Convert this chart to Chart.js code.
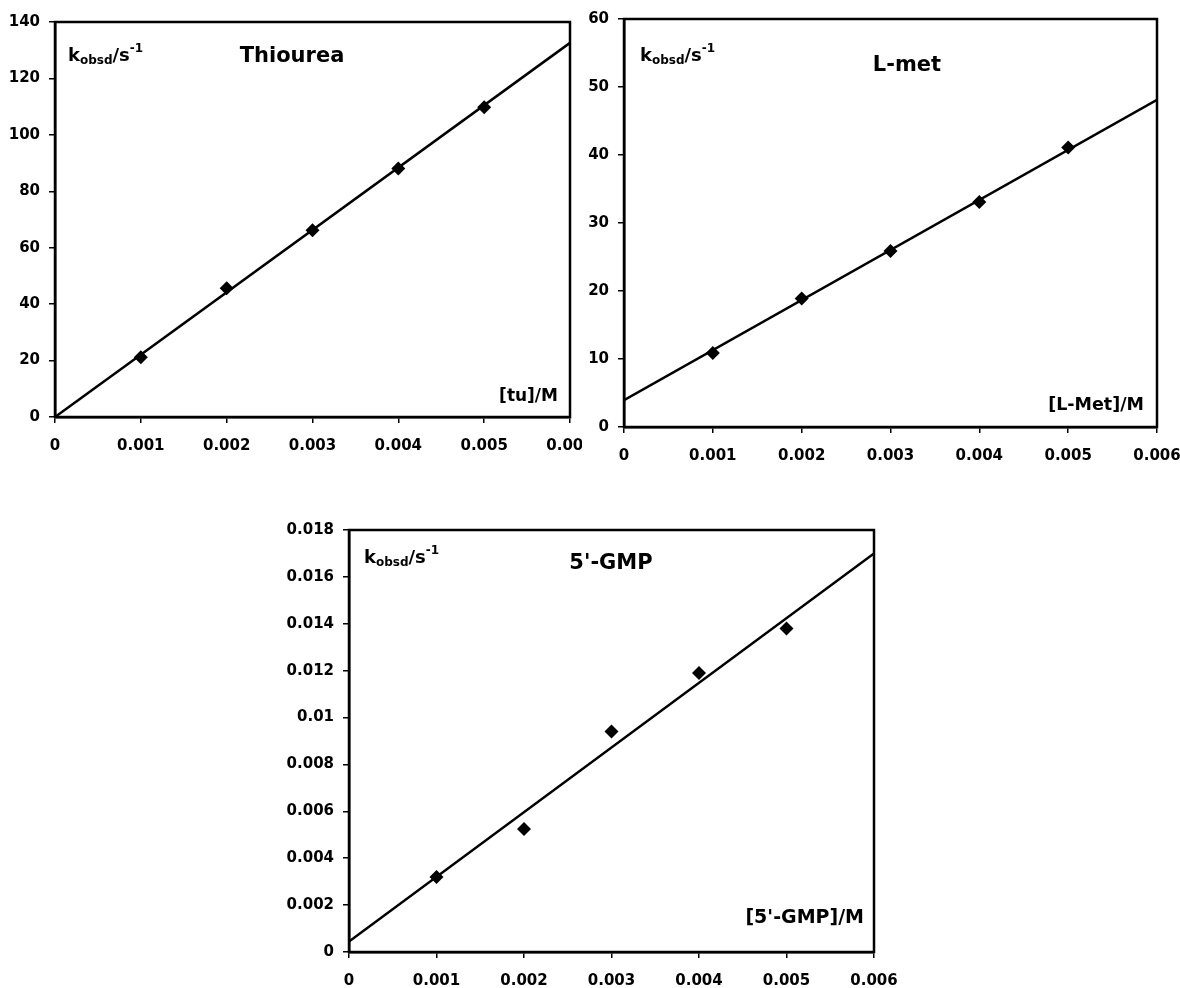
<!DOCTYPE html>
<html>
<head>
<meta charset="utf-8">
<script src="https://cdn.jsdelivr.net/npm/chart.js@4.4.1/dist/chart.umd.min.js"></script>
<style>
    body { margin: 0; background: #fff; width: 1180px; height: 988px; position: relative; overflow: hidden; }
    canvas { position: absolute; }
</style>
</head>
<body>
<canvas id="thioureaChart" width="582" height="470" style="left:0;top:0"></canvas>
<canvas id="lmetChart" width="598" height="470" style="left:582px;top:0"></canvas>
<canvas id="gmpChart" width="640" height="498" style="left:270px;top:490px"></canvas>
<script>
// Concentrations of nucleophile (M)
const concX = [0.001, 0.002, 0.003, 0.004, 0.005];

const thioureaK = [21.2, 45.6, 66.2, 88.1, 109.8];
const lmetK = [10.9, 18.9, 25.9, 33.1, 41.1];
const gmpK = [0.0032, 0.00525, 0.0094, 0.0119, 0.0138];

// Linear fit end points
const fitX = [0, 0.006];
const thioureaFit = [0, 132.6];
const lmetFit = [3.95, 48.1];
const gmpFit = [0.00045, 0.017];

// Axis tick values
const xTicks = [0, 0.001, 0.002, 0.003, 0.004, 0.005, 0.006];
const thioureaYTicks = [0, 20, 40, 60, 80, 100, 120, 140];
const lmetYTicks = [0, 10, 20, 30, 40, 50, 60];
const gmpYTicks = [0, 0.002, 0.004, 0.006, 0.008, 0.01, 0.012, 0.014, 0.016, 0.018];

const FONT = "'DejaVu Sans', sans-serif";

function fmt(v) {
    return String(parseFloat(Number(v).toFixed(4)));
}

// Draws a box round the plot area (top and right sides too)
const framePlugin = {
    id: 'frame',
    afterDraw(chart) {
        const a = chart.chartArea;
        const ctx = chart.ctx;
        ctx.save();
        ctx.strokeStyle = '#000';
        ctx.lineWidth = 2.5;
        ctx.strokeRect(a.left, a.top, a.right - a.left, a.bottom - a.top);
        ctx.restore();
    }
};

// In-plot texts: k_obsd/s^-1, the title and the x-axis label
const notesPlugin = {
    id: 'notes',
    afterDraw(chart, args, opts) {
        const ctx = chart.ctx;
        ctx.save();
        ctx.fillStyle = '#000';
        ctx.textBaseline = 'alphabetic';

        // k_obsd / s^-1
        let x = opts.k.x;
        const y = opts.k.y;
        ctx.textAlign = 'left';
        const parts = [
            { t: 'k', size: 18, dy: 0 },
            { t: 'obsd', size: 12, dy: 3 },
            { t: '/s', size: 18, dy: 0 },
            { t: '-1', size: 12, dy: -9 }
        ];
        parts.forEach(p => {
            ctx.font = `bold ${p.size}px ${FONT}`;
            ctx.fillText(p.t, x, y + p.dy);
            x += ctx.measureText(p.t).width;
        });

        ctx.font = `bold ${opts.title.size}px ${FONT}`;
        ctx.textAlign = 'center';
        ctx.fillText(opts.title.text, opts.title.x, opts.title.y);

        ctx.font = `bold ${opts.axis.size}px ${FONT}`;
        ctx.textAlign = 'right';
        ctx.fillText(opts.axis.text, opts.axis.x, opts.axis.y);
        ctx.restore();
    }
};

function makeChart(id, cfg) {
    const canvas = document.getElementById(id);
    const ctx = canvas.getContext('2d');
    const yTicks = cfg.yTicks;

    return new Chart(ctx, {
        type: 'scatter',
        data: {
            datasets: [
                {
                    label: 'fit',
                    data: fitX.map((x, i) => ({ x: x, y: cfg.fit[i] })),
                    showLine: true,
                    borderColor: '#000',
                    borderWidth: 2.5,
                    pointRadius: 0
                },
                {
                    label: 'kobsd',
                    data: concX.map((x, i) => ({ x: x, y: cfg.values[i] })),
                    pointStyle: 'rectRot',
                    pointRadius: 7,
                    backgroundColor: '#000',
                    borderColor: '#000',
                    borderWidth: 0
                }
            ]
        },
        options: {
            responsive: false,
            animation: false,
            layout: {
                autoPadding: false,
                padding: { top: cfg.top, right: cfg.right, left: 0, bottom: 0 }
            },
            plugins: {
                legend: { display: false },
                tooltip: { enabled: false },
                notes: cfg.notes
            },
            scales: {
                x: {
                    type: 'linear',
                    min: xTicks[0],
                    max: xTicks[xTicks.length - 1],
                    afterBuildTicks: s => { s.ticks = xTicks.map(v => ({ value: v })); },
                    afterFit: s => { s.height = cfg.xHeight; s.paddingLeft = 0; s.paddingRight = 0; },
                    grid: {
                        drawOnChartArea: false,
                        drawTicks: true,
                        tickLength: 6,
                        color: '#000',
                        lineWidth: 1.5
                    },
                    border: { display: true, color: '#000', width: 2.5 },
                    ticks: {
                        color: '#000',
                        padding: 14,
                        maxRotation: 0,
                        font: { family: FONT, size: 15, weight: 'bold' },
                        callback: v => fmt(v)
                    }
                },
                y: {
                    type: 'linear',
                    min: yTicks[0],
                    max: yTicks[yTicks.length - 1],
                    afterBuildTicks: s => { s.ticks = yTicks.map(v => ({ value: v })); },
                    afterFit: s => { s.width = cfg.yWidth; s.paddingTop = 0; s.paddingBottom = 0; },
                    grid: {
                        drawOnChartArea: false,
                        drawTicks: true,
                        tickLength: 6,
                        color: '#000',
                        lineWidth: 1.5
                    },
                    border: { display: true, color: '#000', width: 2.5 },
                    ticks: {
                        color: '#000',
                        padding: 9,
                        font: { family: FONT, size: 15, weight: 'bold' },
                        callback: v => fmt(v)
                    }
                }
            }
        },
        plugins: [framePlugin, notesPlugin]
    });
}

makeChart('thioureaChart', {
    values: thioureaK,
    fit: thioureaFit,
    yTicks: thioureaYTicks,
    top: 22, right: 12, yWidth: 55, xHeight: 53,
    notes: {
        k: { x: 68, y: 61 },
        title: { text: 'Thiourea', x: 292, y: 62, size: 21 },
        axis: { text: '[tu]/M', x: 558, y: 401, size: 17 }
    }
});

makeChart('lmetChart', {
    values: lmetK,
    fit: lmetFit,
    yTicks: lmetYTicks,
    top: 19, right: 23, yWidth: 42, xHeight: 43,
    notes: {
        k: { x: 58, y: 61 },
        title: { text: 'L-met', x: 325, y: 71, size: 21 },
        axis: { text: '[L-Met]/M', x: 562, y: 410, size: 17.5 }
    }
});

makeChart('gmpChart', {
    values: gmpK,
    fit: gmpFit,
    yTicks: gmpYTicks,
    top: 40, right: 36, yWidth: 79, xHeight: 36,
    notes: {
        k: { x: 94, y: 73 },
        title: { text: "5'-GMP", x: 341, y: 79, size: 21 },
        axis: { text: "[5'-GMP]/M", x: 594, y: 433, size: 19 }
    }
});
</script>
</body>
</html>
